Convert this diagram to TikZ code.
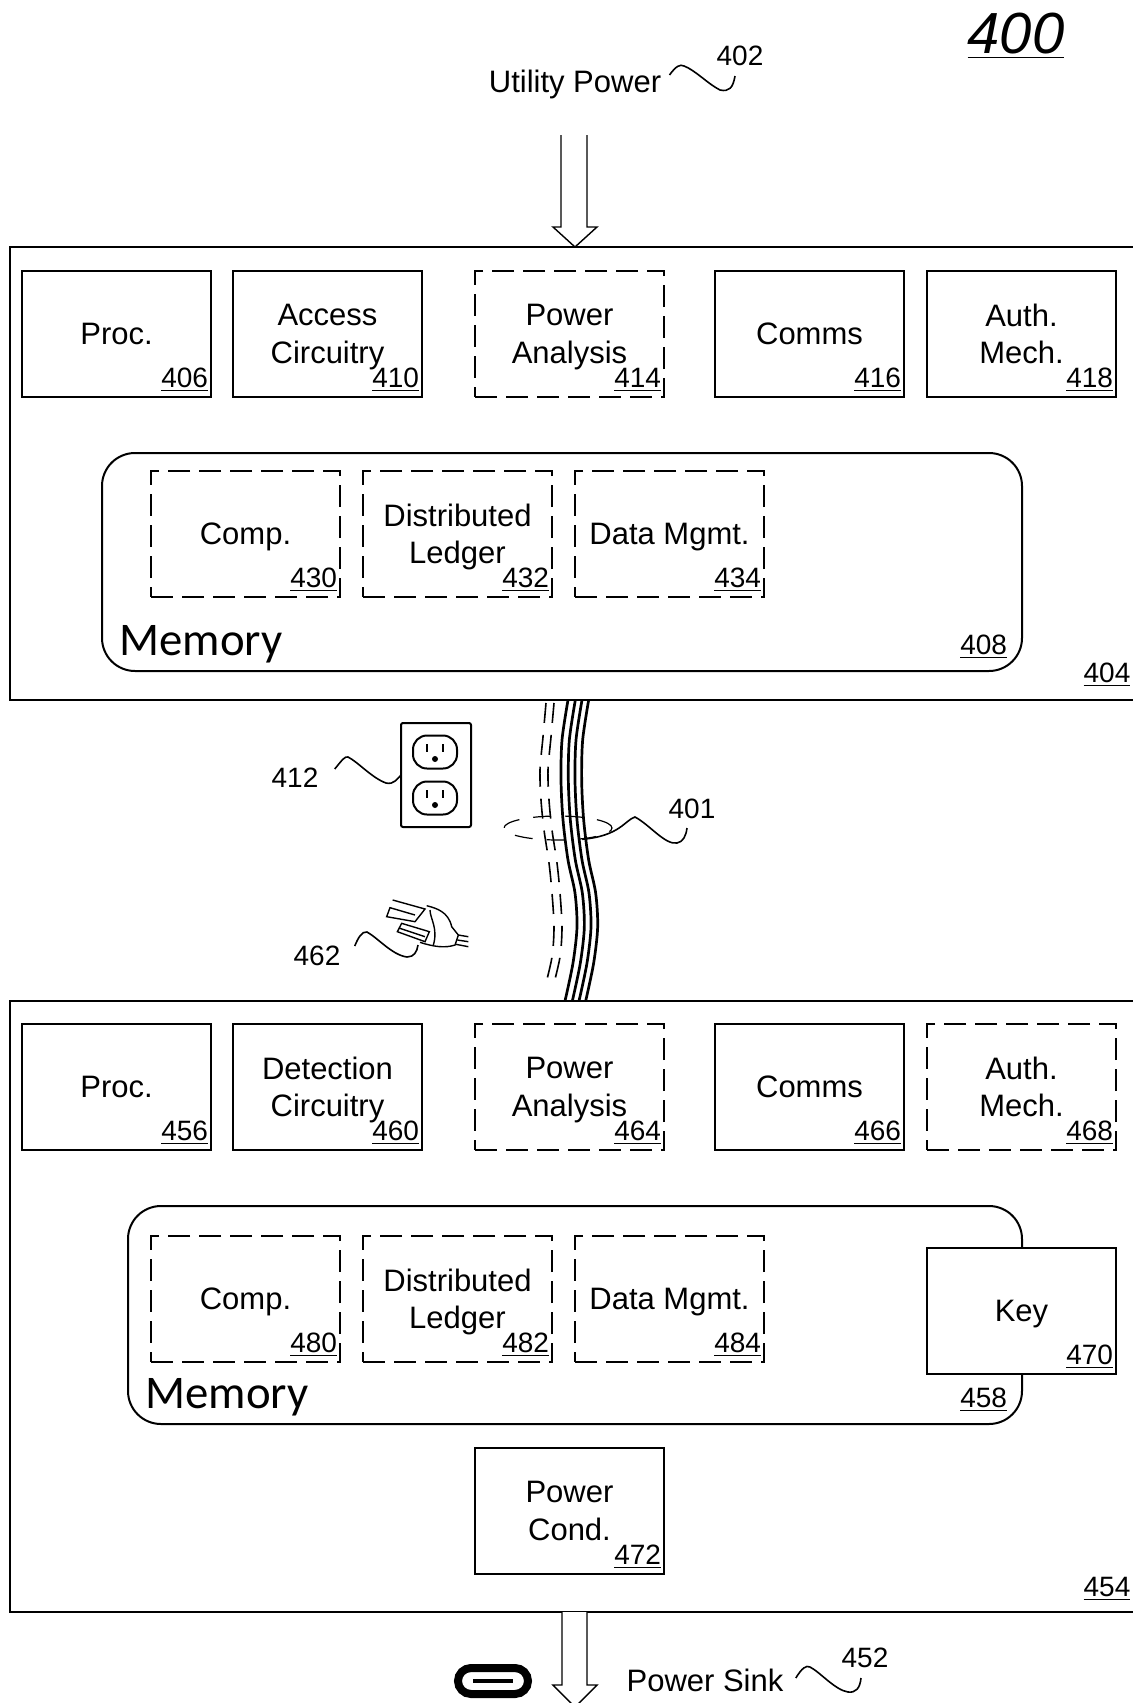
\documentclass[tikz,border=0pt]{standalone}
\usepackage{fontspec}
\setmainfont{Liberation Sans}
\newfontfamily\memfont{Carlito}
\usetikzlibrary{positioning,shapes.geometric}

\begin{document}
\begin{tikzpicture}[
  x=.5pt,y=-.5pt,
  node distance=11.5pt,
  box/.style={
    draw,line width=1pt,fill=white,align=center,outer sep=0pt,
    minimum width=94.5pt,minimum height=63pt,text depth=0pt,
    inner sep=0pt,font=\fontsize{15.5}{18.7}\selectfont
  },
  dashbox/.style={box,dash pattern=on 11pt off 4.5pt},
  membox/.style={
    draw,line width=1pt,rounded corners=16.5pt,outer sep=0pt,anchor=north west,
    minimum height=109pt
  },
  num/.style={anchor=base east,xshift=-1.3pt,yshift=4.6pt,inner sep=0pt,
    font=\fontsize{14}{14}\selectfont},
  tag/.style={inner sep=1pt,font=\fontsize{14}{14}\selectfont},
  word/.style={inner sep=1pt,font=\fontsize{15.5}{18.7}\selectfont},
  memword/.style={anchor=west,inner sep=0pt,font=\memfont\fontsize{23.4}{23.4}\selectfont},
  lead/.style={line width=.8pt},
  wall/.style={line width=1pt},
  hollow/.style={line width=.7pt,fill=white},
  wire/.style={line width=1.35pt},
  dashwire/.style={line width=.8pt,dash pattern=on 10pt off 6pt}
]
  \useasboundingbox (0,0) rectangle (1133,1703);

  % upper unit
  \draw[wall] (1133,247) -- (10,247) -- (10,700) -- (1133,700);
  \node[box,anchor=north west] (proc1) at (22,271) {Proc.};
  \node[box,right=11pt of proc1] (access) {Access\\Circuitry};
  \node[dashbox,right=26.5pt of access] (power1) {Power\\Analysis};
  \node[box,right=25.5pt of power1] (comms1) {Comms};
  \node[box,right=11.5pt of comms1] (auth1) {Auth.\\Mech.};

  \node[membox,minimum width=460pt] (mem1) at (102,453) {};
  \node[dashbox,anchor=north west] (comp1) at (151,471) {Comp.};
  \node[dashbox,right=of comp1] (ledger1) {Distributed\\Ledger};
  \node[dashbox,right=11.5pt of ledger1] (data1) {Data Mgmt.};
  \node[memword] (memtext1) at (119,644) {Memory};

  % lower unit
  \draw[wall] (1133,1001) -- (10,1001) -- (10,1612) -- (1133,1612);
  \node[box,anchor=north west] (proc2) at (22,1024) {Proc.};
  \node[box,right=11pt of proc2] (detect) {Detection\\Circuitry};
  \node[dashbox,right=26.5pt of detect] (power2) {Power\\Analysis};
  \node[box,right=25.5pt of power2] (comms2) {Comms};
  \node[dashbox,right=11.5pt of comms2] (auth2) {Auth.\\Mech.};

  \node[membox,minimum width=447pt] (mem2) at (128,1206) {};
  \node[dashbox,anchor=north west] (comp2) at (151,1236) {Comp.};
  \node[dashbox,right=of comp2] (ledger2) {Distributed\\Ledger};
  \node[dashbox,right=11.5pt of ledger2] (data2) {Data Mgmt.};
  \node[box,anchor=north west] (key) at (927,1248) {Key};
  \node[memword] (memtext2) at (145,1397) {Memory};
  \node[box,anchor=north west] (cond) at (475,1448) {Power\\Cond.};

  \foreach \nm/\val in {proc1/406,access/410,power1/414,comms1/416,auth1/418,
      comp1/430,ledger1/432,data1/434,proc2/456,detect/460,power2/464,comms2/466,
      auth2/468,comp2/480,ledger2/482,data2/484,key/470,cond/472}
    \node[num] (\nm-num) at (\nm.south east) {\underline{\val}};
  \node[num,xshift=-6pt,yshift=3.5pt] (mem1-num) at (mem1.south east) {\underline{408}};
  \node[num,xshift=-6pt,yshift=3.5pt] (mem2-num) at (mem2.south east) {\underline{458}};
  \node[tag] (n404) at (1107,675) {\underline{404}};
  \node[tag] (n454) at (1107,1589) {\underline{454}};
  \node[inner sep=0pt,font=\fontsize{29}{29}\selectfont\itshape] (n400) at (1016,36) {\underline{400}};

  % power in
  \node[word] (utility) at (575,84) {Utility Power};
  \node[tag] (n402) at (740,56) {402};
  \draw[hollow] (561,135) -- (561,227) -- (553,227) -- (575,247) -- (597,227) -- (587,227) -- (587,135);
  \draw[lead] (utility.east) ++(6,-9) .. controls (676,66) and (680,64) .. (684,66)
    .. controls (695,70) and (708,84) .. (720,90) .. controls (729,92) and (733,88) .. (735,76);

  % power out
  \node[word] (sink) at (705,1680) {Power Sink};
  \node[tag] (n452) at (865,1658) {452};
  \draw[hollow] (562,1612) -- (562,1685) -- (553,1685) -- (575,1707) -- (597,1685) -- (587,1685) -- (587,1612);
  \draw[lead] (sink.east) ++(10,-2) .. controls (802,1668) and (806,1665) .. (810,1667)
    .. controls (820,1672) and (835,1690) .. (848,1692) .. controls (856,1693) and (860,1688) .. (861,1678);
  \node[draw,line width=4pt,rounded corners=6.5pt,minimum width=35pt,minimum height=13pt,
    inner sep=0pt] (usbc) at (493,1681) {};
  \node[fill,inner sep=0pt,minimum width=20pt,minimum height=2pt] (usbslot) at (usbc) {};

  % bundle between the units
  \foreach \off in {0,22/3,42/3,62/3}
    \draw[wire,xshift=\off*.5pt] plot[smooth] coordinates {(568,700) (562,740) (561,780)
      (563,820) (568,860) (575,893) (577,927) (573,963) (565,1001)};
  \foreach \off in {0,8}
    \draw[dashwire,xshift=\off*.5pt] plot[smooth] coordinates {(546,703) (543,737) (540,770)
      (541,800) (544,830) (549,863) (552,893) (554,927) (552,957) (545,987)};
  \node[draw,ellipse,line width=.6pt,dash pattern=on 9pt off 7pt,minimum width=54pt,minimum height=12pt,
    inner sep=0pt] (bundle) at (558,828) {};
  \node[tag] (n401) at (692,809) {401};
  \draw[lead] (bundle.-25) .. controls (620,836) and (625,820) .. (635,817)
    .. controls (650,825) and (665,845) .. (677,843) .. controls (683,842) and (686,836) .. (687,828);

  % outlet
  \node[draw,line width=1pt,rounded corners=1pt,outer sep=0pt,inner sep=0pt,minimum width=35pt,minimum height=52pt] (outlet) at (436,775) {};
  \node[draw,line width=1pt,rounded corners=7pt,inner sep=0pt,minimum width=22pt,minimum height=16.5pt] (socket1) at (435,752) {};
  \node[draw,line width=1pt,rounded corners=7pt,inner sep=0pt,minimum width=22pt,minimum height=16.5pt] (socket2) at (435,798) {};
  \foreach \sk in {socket1,socket2} {
    \draw[line width=.8pt] (\sk) ++(-8,-8) -- ++(0,8) (\sk) ++(8,-8) -- ++(0,8);
    \fill (\sk) ++(0,7) circle (1.5pt);
  }
  \node[tag] (n412) at (295,778) {412};
  \draw[lead] (n412.east) ++(14,-9) .. controls (342,760) and (345,756) .. (348,757)
    .. controls (358,762) and (372,778) .. (386,783) .. controls (394,785) and (398,778) .. (outlet.west);

  % plug
  \begin{scope}[shift={(370,885)},x=.1667pt,y=-.1667pt,line width=.7pt]
    \draw (68,45) -- (165,72) -- (135,110) -- (50,95) -- (60,68) -- (135,90);
    \draw (95,115) -- (178,140) -- (165,170) -- (82,140) -- cycle (90,130) -- (165,155);
    \draw (170,62) .. controls (200,70) and (235,80) .. (245,125) -- (265,150) -- (255,180)
      .. controls (225,190) and (190,185) .. (150,172);
    \draw (180,75) .. controls (180,100) and (205,130) .. (190,180);
    \draw (265,150) -- (295,155) (262,165) -- (295,170) (258,178) -- (295,185);
  \end{scope}
  \node[tag] (n462) at (317,956) {462};
  \draw[lead] (n462.east) ++(12,-10) .. controls (358,938) and (362,931) .. (367,932)
    .. controls (378,938) and (392,955) .. (407,957) .. controls (414,957) and (417,952) .. (418,945);
\end{tikzpicture}
\end{document}
